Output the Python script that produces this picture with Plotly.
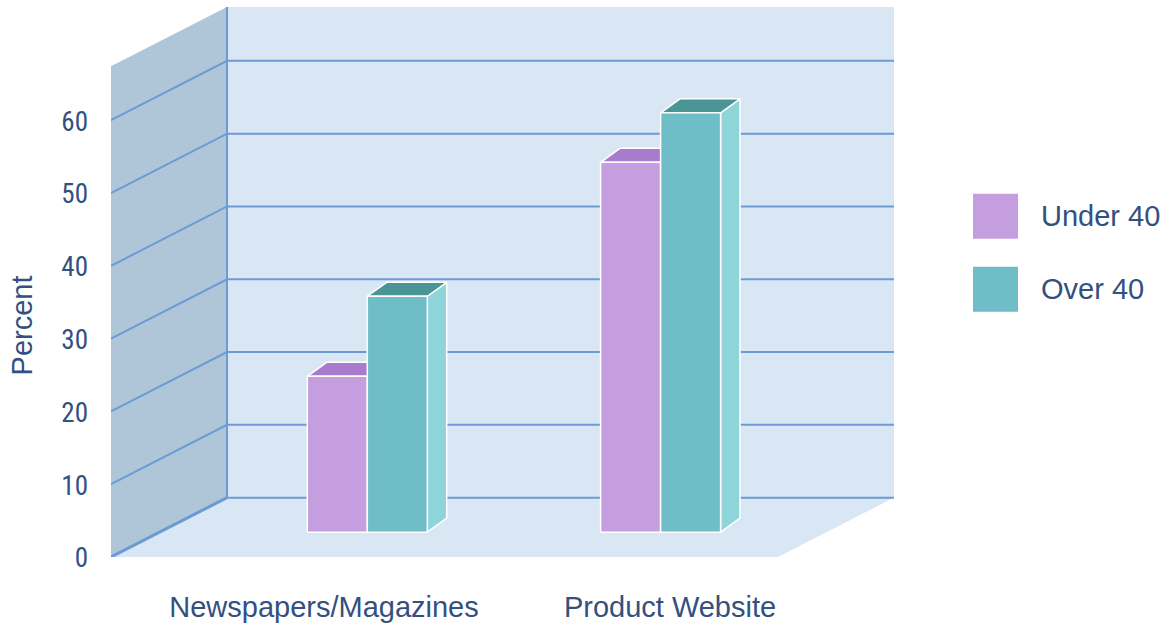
import plotly.graph_objects as go

# ---- data ----
categories = ["Newspapers/Magazines", "Product Website"]
series_names = ["Under 40", "Over 40"]
under_40 = [21.4, 50.8]
over_40 = [32.4, 57.6]
y_ticks = [0, 10, 20, 30, 40, 50, 60]

series_values = [under_40, over_40]

# ---- colours ----
front_colors = ["#C49EDE", "#6FBDC6"]
top_colors = ["#A87BCF", "#4C9597"]
side_colors = ["#B08AD6", "#8ED5DA"]
wall_side = "#AFC6D9"
wall_back = "#D9E7F5"
grid_color = "#6B9BD2"
text_color = "#33507F"
font_main = "Liberation Sans, Arial, sans-serif"
font_ticks = "Roboto Condensed, Liberation Sans Narrow, Arial Narrow, sans-serif"

# ---- geometry of the pseudo-3D box (pixels / value units) ----
W, H = 1165, 623
PLOT_L, PLOT_R = 111, 894
PLOT_T, PLOT_B = 0, 557.4
PX_PER_UNIT = 7.285            # vertical pixels per percentage point

WALL_DX = 116                  # front-to-back horizontal shift
WALL_DY = 59.4 / PX_PER_UNIT   # front-to-back vertical shift (value units)
FLOOR_W = 667
WALL_TOP = 67.4

BAR_W = 60
BAR_DX = 19.4
BAR_DY = 14 / PX_PER_UNIT
BAR_DEPTH = 0.419              # where the bar fronts stand on the floor
GROUP_START = 207.7
GROUP_STEP = 293.3
LABEL_X = [213, 559]

X_MAX = PLOT_R - PLOT_L
Y_MAX = (PLOT_B - PLOT_T) / PX_PER_UNIT


def px_to_paper(px, py):
    return (px - PLOT_L) / (PLOT_R - PLOT_L), (PLOT_B - py) / (PLOT_B - PLOT_T)


def face(xs, ys, fill, line_color=None, line_width=0):
    return go.Scatter(
        x=list(xs) + [xs[0]], y=list(ys) + [ys[0]],
        mode="lines", fill="toself", fillcolor=fill,
        line=dict(color=line_color or fill, width=line_width),
        hoverinfo="skip", showlegend=False,
    )


fig = go.Figure()

# floor, back wall, left wall
fig.add_trace(face([0, FLOOR_W, FLOOR_W + WALL_DX, WALL_DX],
                   [0, 0, WALL_DY, WALL_DY], wall_back))
fig.add_trace(face([WALL_DX, WALL_DX + FLOOR_W, WALL_DX + FLOOR_W, WALL_DX],
                   [WALL_DY, WALL_DY, WALL_DY + WALL_TOP, WALL_DY + WALL_TOP], wall_back))
fig.add_trace(face([0, WALL_DX, WALL_DX, 0],
                   [0, WALL_DY, WALL_DY + WALL_TOP, WALL_TOP], wall_side))

# gridlines across left and back walls
gx, gy = [], []
for v in y_ticks:
    gx += [0, WALL_DX, WALL_DX + FLOOR_W, None]
    gy += [v, v + WALL_DY, v + WALL_DY, None]
gx += [WALL_DX, WALL_DX]
gy += [WALL_DY, WALL_DY + WALL_TOP]
fig.add_trace(go.Scatter(x=gx, y=gy, mode="lines",
                         line=dict(color=grid_color, width=2),
                         hoverinfo="skip", showlegend=False))
fig.add_trace(go.Scatter(x=[0, WALL_DX], y=[0, WALL_DY], mode="lines",
                         line=dict(color=grid_color, width=3),
                         hoverinfo="skip", showlegend=False))

# bars
base = BAR_DEPTH * WALL_DY
for i in range(len(categories)):
    group_x = GROUP_START + i * GROUP_STEP + BAR_DEPTH * WALL_DX - BAR_W
    for j, values in enumerate(series_values):
        v = values[i]
        x0 = group_x + j * BAR_W
        x1 = x0 + BAR_W
        top = base + v
        edge = dict(line_color="white", line_width=1.5)
        fig.add_trace(face([x1, x1 + BAR_DX, x1 + BAR_DX, x1],
                           [base, base + BAR_DY, top + BAR_DY, top],
                           side_colors[j], **edge))
        fig.add_trace(face([x0, x1, x1 + BAR_DX, x0 + BAR_DX],
                           [top, top, top + BAR_DY, top + BAR_DY],
                           top_colors[j], **edge))
        fig.add_trace(face([x0, x1, x1, x0],
                           [base, base, top, top],
                           front_colors[j], **edge))

# legend
shapes, annotations = [], []
legend_rows = [216.5, 289.5]
for name, color, cy in zip(series_names, front_colors, legend_rows):
    x0, y0 = px_to_paper(973, cy + 22.5)
    x1, y1 = px_to_paper(1018, cy - 22.5)
    shapes.append(dict(type="rect", xref="paper", yref="paper",
                       x0=x0, x1=x1, y0=y0, y1=y1,
                       fillcolor=color, line=dict(width=0)))
    tx, ty = px_to_paper(1039, cy)
    annotations.append(dict(text=name, xref="paper", yref="paper", x=tx, y=ty,
                            xanchor="left", yanchor="middle", showarrow=False,
                            font=dict(size=29, color=text_color, family=font_main)))

tx, ty = px_to_paper(21.7, 326)
annotations.append(dict(text="Percent", xref="paper", yref="paper", x=tx, y=ty,
                        xanchor="center", yanchor="middle", textangle=-90,
                        showarrow=False,
                        font=dict(size=29, color=text_color, family=font_main)))

fig.update_layout(
    width=W, height=H,
    margin=dict(l=PLOT_L, r=W - PLOT_R, t=PLOT_T, b=H - PLOT_B, autoexpand=False),
    paper_bgcolor="white", plot_bgcolor="white",
    shapes=shapes, annotations=annotations,
    showlegend=False,
)
fig.update_xaxes(range=[0, X_MAX], tickvals=LABEL_X, ticktext=categories,
                 showgrid=False, zeroline=False, showline=False, ticks="",
                 ticklabelstandoff=30, fixedrange=True,
                 tickfont=dict(size=29, color=text_color, family=font_main))
fig.update_yaxes(range=[0, Y_MAX], tickvals=y_ticks,
                 showgrid=False, zeroline=False, showline=False, ticks="",
                 ticklabelstandoff=22, ticklabelshift=1, fixedrange=True,
                 tickfont=dict(size=27, color=text_color, family=font_ticks))

fig.write_html("out.html")
